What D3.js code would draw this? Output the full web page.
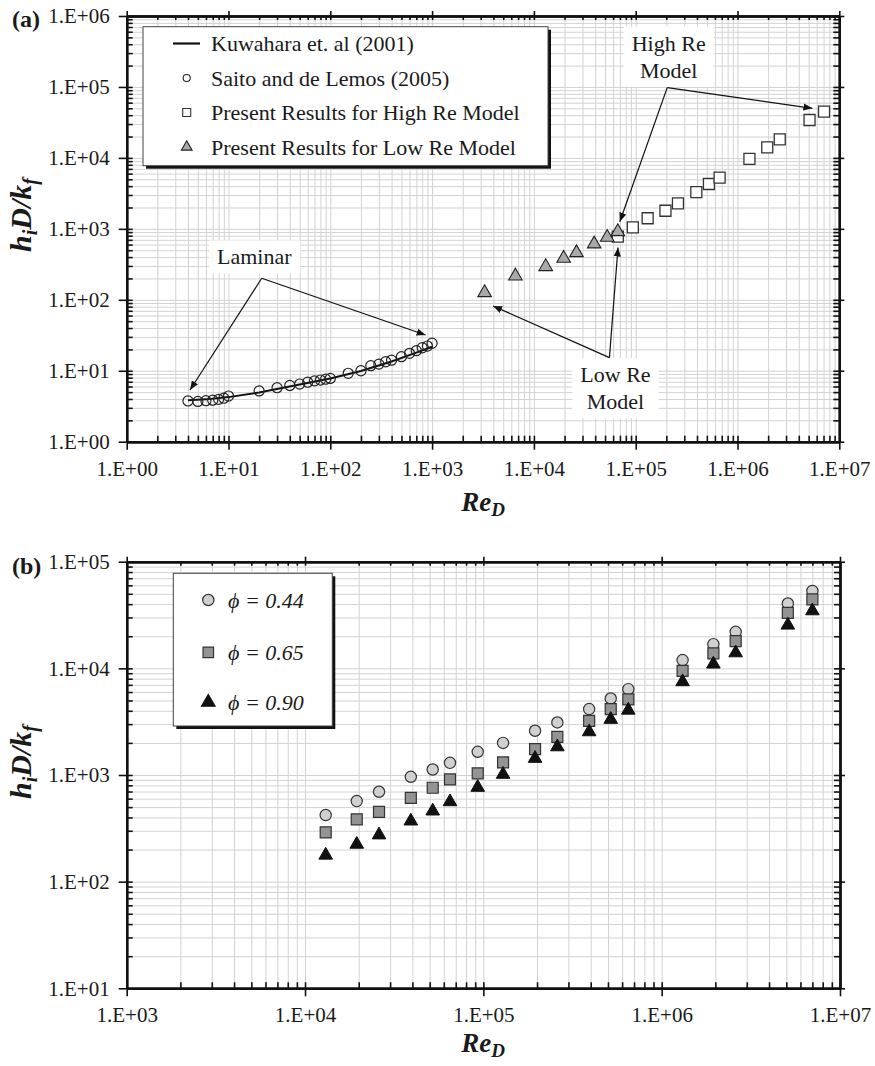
<!DOCTYPE html>
<html>
<head>
<meta charset="utf-8">
<script src="https://cdn.jsdelivr.net/npm/d3@7"></script>
<style>
  body { margin: 0; background: #fff; }
</style>
</head>
<body>
<svg id="chart" width="875" height="1066"></svg>
<script>
// ---- panel (a) data ----
const lamRe = [4, 5, 6, 7, 8, 9, 10, 20, 30, 40, 50, 60, 70, 80, 90, 100, 150, 200, 250, 300, 350, 400, 500, 600, 700, 800, 900, 1000];
const lamNu = [3.75, 3.7, 3.78, 3.85, 3.95, 4.1, 4.4, 5.2, 5.77, 6.2, 6.5, 6.9, 7.2, 7.4, 7.6, 7.8, 9.2, 10.0, 11.8, 12.4, 13.4, 14.1, 15.8, 17.6, 19.2, 21.1, 22.3, 24.4];
const kuwRe = [4, 6, 10, 20, 50, 100, 200, 400, 700, 1000];
const kuwNu = [3.85, 3.95, 4.25, 4.95, 6.4, 7.8, 9.9, 13.5, 18, 21.8];
const highRe = [66700, 93700, 131000, 196000, 260000, 394000, 524000, 667000, 1310000, 1960000, 2600000, 5100000, 7080000];
const highNu = [775, 1050, 1410, 1800, 2290, 3300, 4290, 5260, 9660, 14100, 18300, 34200, 44800];
const lowRe = [3280, 6580, 13060, 19600, 26200, 39100, 52500, 66700];
const lowNu = [126, 216, 293, 385, 461, 612, 759, 912];
const legendA = ["Kuwahara et. al (2001)", "Saito and de Lemos (2005)", "Present Results for High Re Model", "Present Results for Low Re Model"];

// ---- panel (b) data ----
const reB = [13060, 19500, 26000, 39200, 52000, 65000, 93000, 129000, 195000, 260000, 392000, 518000, 650000, 1310000, 1950000, 2600000, 5100000, 7000000];
const phi044 = [421, 569, 697, 962, 1127, 1300, 1650, 2000, 2600, 3110, 4150, 5220, 6380, 11950, 16870, 21990, 40560, 53200];
const phi065 = [290, 384, 452, 611, 759, 910, 1035, 1312, 1750, 2280, 3220, 4150, 5110, 9480, 13800, 17980, 33100, 44300];
const phi090 = [177, 224, 274, 370, 459, 561, 765, 1013, 1430, 1836, 2540, 3320, 4050, 7480, 10950, 13970, 25400, 34600];
const legendB = ["\u03D5 = 0.44", "\u03D5 = 0.65", "\u03D5 = 0.90"];

const serif = '"Liberation Serif","Times New Roman",serif';
const gridColor = "#d3d3d3";
const svg = d3.select("#chart");

svg.append("defs").append("marker")
  .attr("id", "arrow").attr("viewBox", "0 0 10 10")
  .attr("refX", 10).attr("refY", 5)
  .attr("markerWidth", 9).attr("markerHeight", 9)
  .attr("markerUnits", "userSpaceOnUse")
  .attr("orient", "auto")
  .append("path").attr("d", "M0,1 L10,5 L0,9 Z").attr("fill", "#111");

function fmtExp(v) {
  const e = Math.round(Math.log10(v));
  return "1.E+" + (e < 10 ? "0" : "") + e;
}
function decadeTicks(lo, hi) {
  let out = [];
  for (let d = lo; d < hi; d++)
    for (let k = 1; k < 10; k++) out.push(k * Math.pow(10, d));
  out.push(Math.pow(10, hi));
  return out;
}
function powers(lo, hi) { return d3.range(lo, hi + 1).map(d => Math.pow(10, d)); }

function drawGrid(x, y, xe, ye) {
  const [l, r] = x.range(), [b, t] = y.range();
  const g = svg.append("g");
  g.append("g").attr("transform", `translate(0,${b})`)
    .call(d3.axisBottom(x).tickValues(decadeTicks(xe[0], xe[1])).tickSize(-(b - t)).tickFormat(""))
    .call(s => s.select(".domain").remove())
    .selectAll("line").attr("stroke", gridColor);
  g.append("g").attr("transform", `translate(${l},0)`)
    .call(d3.axisLeft(y).tickValues(decadeTicks(ye[0], ye[1])).tickSize(-(r - l)).tickFormat(""))
    .call(s => s.select(".domain").remove())
    .selectAll("line").attr("stroke", gridColor);
}

function drawAxes(x, y, xe, ye) {
  const [l, r] = x.range(), [b, t] = y.range();
  const xt = decadeTicks(xe[0], xe[1]), yt = decadeTicks(ye[0], ye[1]);
  const xm = powers(xe[0], xe[1]), ym = powers(ye[0], ye[1]);
  const style = s => {
    s.selectAll("line").attr("stroke", "#111").attr("stroke-width", 1.6);
    s.selectAll(".domain").attr("stroke", "#111").attr("stroke-width", 2.4);
    s.selectAll("text").attr("font-family", serif).attr("font-size", 21).attr("fill", "#1a1a1a");
  };
  const g = svg.append("g");
  // inner ticks
  g.append("g").attr("transform", `translate(0,${b})`)
    .call(d3.axisBottom(x).tickValues(xt).tickSizeInner(-6).tickSizeOuter(0).tickFormat("")).call(style);
  g.append("g").attr("transform", `translate(0,${t})`)
    .call(d3.axisTop(x).tickValues(xt).tickSizeInner(-4).tickSizeOuter(0).tickFormat("")).call(style);
  g.append("g").attr("transform", `translate(${l},0)`)
    .call(d3.axisLeft(y).tickValues(yt).tickSizeInner(-6).tickSizeOuter(0).tickFormat("")).call(style);
  g.append("g").attr("transform", `translate(${r},0)`)
    .call(d3.axisRight(y).tickValues(yt).tickSizeInner(-6).tickSizeOuter(0).tickFormat("")).call(style);
  // major ticks crossing outward, with labels
  g.append("g").attr("transform", `translate(0,${b})`)
    .call(d3.axisBottom(x).tickValues(xm).tickSizeInner(8).tickSizeOuter(0).tickPadding(11).tickFormat(fmtExp)).call(style);
  g.append("g").attr("transform", `translate(${l},0)`)
    .call(d3.axisLeft(y).tickValues(ym).tickSizeInner(8).tickSizeOuter(0).tickPadding(9).tickFormat(fmtExp)).call(style);
  g.append("g").attr("transform", `translate(0,${t})`)
    .call(d3.axisTop(x).tickValues(xm).tickSizeInner(5).tickSizeOuter(0).tickFormat("")).call(style);
  g.append("g").attr("transform", `translate(${r},0)`)
    .call(d3.axisRight(y).tickValues(ym).tickSizeInner(5).tickSizeOuter(0).tickFormat("")).call(style);
}

function plotSymbols(x, y, re, nu, type, size, fill, stroke, sw) {
  svg.append("g").selectAll("path")
    .data(d3.zip(re, nu))
    .join("path")
    .attr("transform", d => `translate(${x(d[0])},${y(d[1])})`)
    .attr("d", d3.symbol(type, size))
    .attr("fill", fill).attr("stroke", stroke).attr("stroke-width", sw);
}

function titles(cx, yTitleY, reY, tag, tagY) {
  // y title
  const yt = svg.append("text")
    .attr("transform", `translate(31,${yTitleY}) rotate(-90)`)
    .attr("text-anchor", "middle")
    .attr("font-family", serif).attr("font-weight", "bold").attr("font-style", "italic")
    .attr("font-size", 30).attr("fill", "#1a1a1a");
  yt.append("tspan").text("h");
  yt.append("tspan").attr("font-size", 20).attr("dy", 6).text("i");
  yt.append("tspan").attr("dy", -6).text("D/k");
  yt.append("tspan").attr("font-size", 20).attr("dy", 6).text("f");
  // x title
  const xt = svg.append("text")
    .attr("x", cx).attr("y", reY)
    .attr("text-anchor", "middle")
    .attr("font-family", serif).attr("font-weight", "bold").attr("font-style", "italic")
    .attr("font-size", 27).attr("fill", "#1a1a1a");
  xt.append("tspan").text("Re");
  xt.append("tspan").attr("font-size", 19).attr("dy", 5).text("D");
  // panel tag
  svg.append("text").attr("x", 12).attr("y", tagY)
    .attr("font-family", serif).attr("font-weight", "bold").attr("font-size", 24)
    .attr("fill", "#1a1a1a").text(tag);
}

function legendBox(x0, y0, x1, y1) {
  svg.append("rect").attr("x", x0 + 3).attr("y", y0 + 3)
    .attr("width", x1 - x0).attr("height", y1 - y0).attr("fill", "#111");
  svg.append("rect").attr("x", x0).attr("y", y0)
    .attr("width", x1 - x0).attr("height", y1 - y0)
    .attr("fill", "#fff").attr("stroke", "#444").attr("stroke-width", 1);
}

// ================= panel (a) =================
const xA = d3.scaleLog().domain([1, 1e7]).range([126.7, 839.3]);
const yA = d3.scaleLog().domain([1, 1e6]).range([441.7, 16]);
drawGrid(xA, yA, [0, 7], [0, 6]);

svg.append("path")
  .datum(d3.zip(kuwRe, kuwNu))
  .attr("fill", "none").attr("stroke", "#111").attr("stroke-width", 2)
  .attr("d", d3.line().x(d => xA(d[0])).y(d => yA(d[1])));
plotSymbols(xA, yA, lamRe, lamNu, d3.symbolCircle, 80, "none", "#222", 1.2);
plotSymbols(xA, yA, highRe, highNu, d3.symbolSquare, 121, "#fff", "#333", 1.3);
plotSymbols(xA, yA, lowRe, lowNu, d3.symbolTriangle, 80, "#a9a9a9", "#222", 1.1);

// annotations, anchored in data units
const annoA = [
  { lines: ["Laminar"], at: [17.9, 405], from: [21.2, 201], to: [[4.19, 5.36], [863, 31.9]] },
  { lines: ["High Re", "Model"], at: [2.11e5, 2.69e5], from: [2.04e5, 9.77e4], to: [[5.44e6, 5.0e4], [6.98e4, 1262]] },
  { lines: ["Low Re", "Model"], at: [6.33e4, 5.72], from: [5.52e4, 15.3], to: [[3970, 81.8], [6.7e4, 546]] }
];
annoA.forEach(a => {
  const cx = xA(a.at[0]), cy = yA(a.at[1]);
  const lh = 27, n = a.lines.length;
  const g = svg.append("g");
  const bg = g.append("rect").attr("fill", "#fff");
  const txt = g.append("text").attr("text-anchor", "middle")
    .attr("font-family", serif).attr("font-size", 22).attr("fill", "#1a1a1a");
  a.lines.forEach((s, i) => {
    txt.append("tspan").attr("x", cx).attr("y", cy + (i - (n - 1) / 2) * lh).attr("dy", "0.35em").text(s);
  });
  const bb = txt.node().getBBox();
  bg.attr("x", bb.x - 8).attr("y", bb.y - 4).attr("width", bb.width + 16).attr("height", bb.height + 8);
  a.to.forEach(p => {
    g.append("line")
      .attr("x1", xA(a.from[0])).attr("y1", yA(a.from[1]))
      .attr("x2", xA(p[0])).attr("y2", yA(p[1]))
      .attr("stroke", "#111").attr("stroke-width", 1.2)
      .attr("marker-end", "url(#arrow)");
  });
});

// legend (a)
legendBox(143, 26.7, 548, 165.7);
const rowsA = [43.5, 78, 112.5, 147];
const symX = 186.7, txtX = 211;
svg.append("line").attr("x1", 173).attr("x2", 200).attr("y1", rowsA[0]).attr("y2", rowsA[0])
  .attr("stroke", "#111").attr("stroke-width", 2.2);
const legSyms = [null, [d3.symbolCircle, 40, "#fff", "#222"], [d3.symbolSquare, 64, "#fff", "#333"], [d3.symbolTriangle, 50, "#a9a9a9", "#222"]];
legSyms.forEach((s, i) => {
  if (!s) return;
  svg.append("path").attr("transform", `translate(${symX},${rowsA[i]})`)
    .attr("d", d3.symbol(s[0], s[1])).attr("fill", s[2]).attr("stroke", s[3]).attr("stroke-width", 1.1);
});
legendA.forEach((s, i) => {
  svg.append("text").attr("x", txtX).attr("y", rowsA[i]).attr("dy", "0.35em")
    .attr("font-family", serif).attr("font-size", 22).attr("fill", "#1a1a1a").text(s);
});

drawAxes(xA, yA, [0, 7], [0, 6]);
titles(483, 215, 511, "(a)", 27);

// ================= panel (b) =================
const xB = d3.scaleLog().domain([1e3, 1e7]).range([126.7, 840]);
const yB = d3.scaleLog().domain([10, 1e5]).range([988.3, 561.7]);
drawGrid(xB, yB, [3, 7], [1, 5]);

plotSymbols(xB, yB, reB, phi044, d3.symbolCircle, 100, "#d0d0d0", "#333", 1.2);
plotSymbols(xB, yB, reB, phi065, d3.symbolSquare, 121, "#939393", "#333", 1.2);
plotSymbols(xB, yB, reB, phi090, d3.symbolTriangle, 80, "#111", "#111", 1);

legendBox(173.3, 573.3, 332.3, 726);
const rowsB = [600, 652.3, 702.3];
const legSymsB = [[d3.symbolCircle, 100, "#d0d0d0", "#333"], [d3.symbolSquare, 110, "#939393", "#333"], [d3.symbolTriangle, 80, "#111", "#111"]];
legSymsB.forEach((s, i) => {
  svg.append("path").attr("transform", `translate(208.3,${rowsB[i]})`)
    .attr("d", d3.symbol(s[0], s[1])).attr("fill", s[2]).attr("stroke", s[3]).attr("stroke-width", 1.2);
});
legendB.forEach((s, i) => {
  svg.append("text").attr("x", 228).attr("y", rowsB[i]).attr("dy", "0.35em")
    .attr("font-family", serif).attr("font-style", "italic").attr("font-size", 22)
    .attr("fill", "#1a1a1a").attr("xml:space", "preserve").text(s);
});

drawAxes(xB, yB, [3, 7], [1, 5]);
titles(483, 762, 1052, "(b)", 574);
</script>
</body>
</html>
